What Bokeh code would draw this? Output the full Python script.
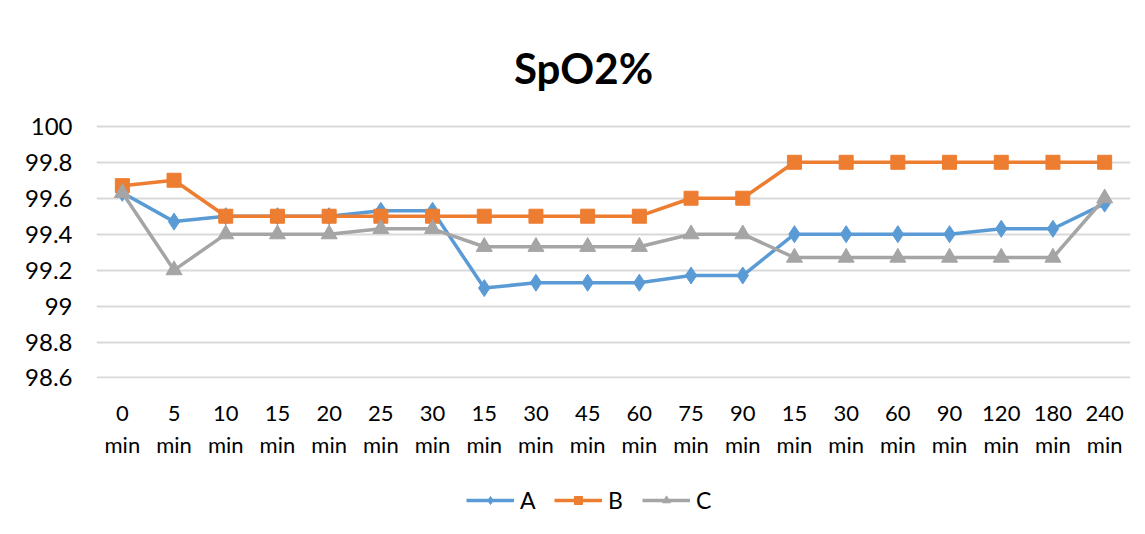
from bokeh.plotting import figure
from bokeh.layouts import column
from bokeh.models import ColumnDataSource, FixedTicker, Legend, LegendItem, Label, Range1d
from bokeh.embed import file_html
from bokeh.resources import INLINE

categories = ["0 min", "5 min", "10 min", "15 min", "20 min", "25 min", "30 min",
              "15 min", "30 min", "45 min", "60 min", "75 min", "90 min",
              "15 min", "30 min", "60 min", "90 min", "120 min", "180 min", "240 min"]
series_a = [99.63, 99.47, 99.5, 99.5, 99.5, 99.53, 99.53, 99.1, 99.13, 99.13, 99.13,
            99.17, 99.17, 99.4, 99.4, 99.4, 99.4, 99.43, 99.43, 99.57]
series_b = [99.67, 99.7, 99.5, 99.5, 99.5, 99.5, 99.5, 99.5, 99.5, 99.5, 99.5,
            99.6, 99.6, 99.8, 99.8, 99.8, 99.8, 99.8, 99.8, 99.8]
series_c = [99.63, 99.2, 99.4, 99.4, 99.4, 99.43, 99.43, 99.33, 99.33, 99.33, 99.33,
            99.4, 99.4, 99.27, 99.27, 99.27, 99.27, 99.27, 99.27, 99.6]
series_names = ["A", "B", "C"]
y_ticks = [98.6, 98.8, 99.0, 99.2, 99.4, 99.6, 99.8, 100.0]
y_tick_labels = ["98.6", "98.8", "99", "99.2", "99.4", "99.6", "99.8", "100"]
title_text = "SpO2%"

FONT = "Lato"
idx = list(range(len(categories)))
colors = ["#5B9BD5", "#ED7D31", "#A5A5A5"]
markers = ["diamond", "square", "triangle"]
msizes = [17, 14, 16]

PX = 180.0  # pixels per y unit
frame_top = 20
y_end = 100.0 + (126 - frame_top) / PX
H1 = 470

p = figure(width=1140, height=H1, output_backend="svg", toolbar_location=None,
           x_range=Range1d(-0.5, len(categories) - 0.5), y_range=Range1d(98.597, y_end),
           min_border_left=96, min_border_right=10, min_border_top=frame_top,
           min_border_bottom=H1 - 378)
p.outline_line_color = None
p.background_fill_color = "white"
p.border_fill_color = "white"

p.xaxis.ticker = FixedTicker(ticks=idx)
p.xaxis.major_label_overrides = {i: c.replace(" ", "\n") for i, c in zip(idx, categories)}
p.yaxis.ticker = FixedTicker(ticks=y_ticks)
p.yaxis.major_label_overrides = {t: l for t, l in zip(y_ticks, y_tick_labels)}
for ax in (p.xaxis, p.yaxis):
    ax.axis_line_color = None
    ax.major_tick_line_color = None
    ax.minor_tick_line_color = None
    ax.major_label_text_font = FONT
    ax.major_label_text_color = "#000000"
p.yaxis.major_label_text_font_size = "24px"
p.xaxis.major_label_text_font_size = "22px"
p.yaxis.major_label_standoff = 18
p.xaxis.major_label_standoff = 14
p.xgrid.grid_line_color = None
p.ygrid.grid_line_color = "#d9d9d9"
p.ygrid.grid_line_width = 2

src = ColumnDataSource(dict(x=idx, A=series_a, B=series_b, C=series_c))
for name, col, mk, ms in zip(series_names, colors, markers, msizes):
    p.line("x", name, source=src, color=col, line_width=3.5)
    p.scatter("x", name, source=src, marker=mk, size=ms, color=col)

title = Label(x=(len(categories) - 1) / 2 - 0.58, y=100.0 + 58 / PX, text=title_text,
              text_font=FONT, text_font_size="42px", text_font_style="bold",
              text_align="center", text_baseline="middle", text_color="#000000")
p.add_layout(title)

# legend strip below the chart
q = figure(width=1140, height=60, output_backend="svg", toolbar_location=None,
           x_range=Range1d(0, 1), y_range=Range1d(0, 1),
           min_border_left=0, min_border_right=0, min_border_top=0, min_border_bottom=0)
q.axis.visible = False
q.grid.visible = False
q.outline_line_color = None
items = []
offscreen = ColumnDataSource(dict(x=[5, 6], y=[5, 5]))
for name, col, mk, ms in zip(series_names, colors, markers, msizes):
    lr = q.line("x", "y", source=offscreen, color=col, line_width=3.5)
    sr = q.scatter("x", "y", source=offscreen, marker=mk, size=ms - 2, color=col)
    items.append(LegendItem(label=name, renderers=[lr, sr]))
legend = Legend(items=items, orientation="horizontal", location=(370, 16),
                label_text_font=FONT, label_text_font_size="23px", label_text_color="#000000",
                glyph_width=48, glyph_height=20, spacing=14, label_standoff=6,
                border_line_color=None, background_fill_alpha=0)
q.add_layout(legend)

layout = column(p, q, spacing=0)
open("out.html", "w").write(file_html(layout, INLINE))
